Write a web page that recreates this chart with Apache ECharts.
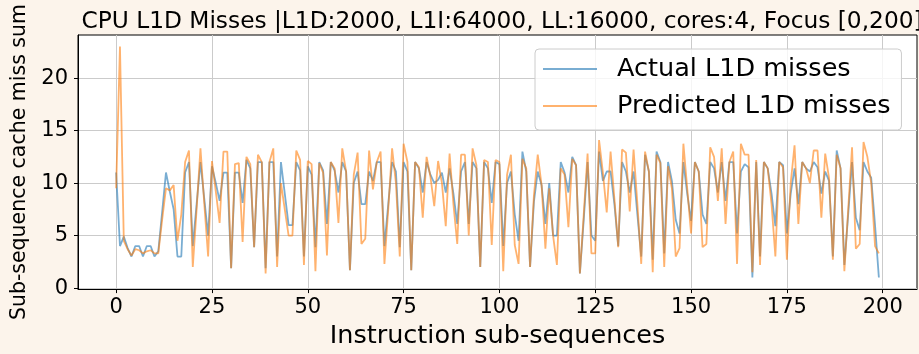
<!DOCTYPE html>
<html><head><meta charset="utf-8">
<script src="https://cdn.jsdelivr.net/npm/echarts@6/dist/echarts.min.js"></script>
<style>html,body{margin:0;padding:0;background:#fcf4eb;}#c{width:919px;height:354px;}</style>
</head><body><div id="c"></div>
<script>
const xIndex = Array.from({length: 200}, (_, i) => i);
const actual = [
 11, 4, 4.9, 3.8, 3.0, 4.0, 4.0, 3.0, 4.0, 4.0,
 3.0, 3.5, 7.2, 11, 9.2, 7.5, 3, 3, 11, 12,
 4, 8, 12, 8.5, 5, 11.6, 10, 8.3, 11, 11,
 1.9, 11, 11, 8.1, 12.2, 11.4, 3.9, 12, 12, 1.9,
 12, 12, 3, 12, 9, 6, 6, 12, 11.2, 3,
 11.6, 10.8, 3.9, 12, 11.2, 6.1, 12, 11.2, 9.1, 12,
 11.1, 1.7, 10, 11.1, 8, 8, 11.1, 10.2, 12, 12,
 4, 8, 12, 11.1, 3.9, 12, 11.1, 1.7, 12, 11.4,
 9.1, 12, 10.8, 10, 10.3, 11, 9.1, 11.4, 9, 6.1,
 11.1, 12, 6.1, 12, 11.4, 2, 12, 11.4, 8.1, 12,
 11.8, 4, 10, 11.1, 7, 4.5, 13, 11.1, 2, 8.2,
 11.1, 9.8, 6.1, 10, 5, 5, 12, 11, 9.1, 12.5,
 11.7, 1.4, 6.5, 12, 5, 4.5, 13, 10.2, 11.1, 11.1,
 8, 4, 12, 11.1, 9.1, 11.1, 7, 3, 12.7, 11.1,
 2.7, 13, 12, 3.3, 12, 10.2, 6.5, 5.2, 12, 9,
 6.4, 12, 11.1, 7, 6.1, 12, 11.4, 9.1, 12, 8.3,
 12, 12, 5.2, 11.1, 11.8, 11.5, 1, 12, 3, 12,
 11.4, 9, 5.9, 12, 11.7, 5.2, 9, 11.4, 8, 12,
 11.4, 11.1, 12, 11.5, 9, 11.1, 10.2, 3, 13.1, 11.4,
 2.2, 7, 12, 6.7, 5.5, 12, 11.1, 10.5, 6, 1
];
const predicted = [
 9.5, 23, 4.5, 3.7, 3.1, 3.7, 3.6, 3.3, 3.5, 3.6,
 3.3, 3.3, 6.5, 9.5, 9.3, 9.8, 4.5, 7, 12, 13.1,
 2, 7.5, 13.3, 8, 3, 12.1, 9.2, 6.2, 13, 13,
 1.9, 11.8, 11.9, 4.4, 12.5, 11.8, 3.9, 12.7, 12, 1.4,
 12, 13.3, 2, 10, 7.5, 5, 5, 13.1, 12.2, 2.2,
 12.1, 11.8, 1.6, 11.9, 11, 3.1, 12, 11.4, 6.2, 13.3,
 11.1, 1.7, 10.8, 12.9, 4.2, 4.7, 13.1, 9.4, 12, 13,
 2.3, 7.5, 13.3, 10, 3, 13.75, 12, 1.7, 12, 11.5,
 6.7, 12.5, 10.6, 7.8, 12.1, 10, 5.9, 12.8, 8, 4.2,
 12.7, 12.7, 5, 13.3, 11.7, 2, 12.2, 12, 4.1, 12.2,
 12, 1.6, 10.8, 12.7, 4.1, 2.3, 12.3, 11.4, 2, 8.8,
 12.7, 9.8, 3.75, 9.5, 5, 2.2, 11.4, 10.8, 5.8, 12.3,
 11.7, 1.4, 7, 12.8, 3.3, 3.3, 14.1, 11, 7.2, 13,
 8.5, 3.9, 13.2, 12.9, 7.3, 13.2, 8, 2.3, 13, 11.1,
 1.5, 12.7, 11.9, 2, 11.6, 9.5, 3, 3.8, 13.75, 9.5,
 5.2, 12, 11.1, 3.9, 4.2, 13.4, 12.5, 8.3, 13.3, 6.1,
 12, 13, 2.3, 13.75, 12.7, 12.7, 1.5, 12.2, 2.2, 12,
 11.4, 8, 3, 12, 11.5, 2.7, 10, 13.6, 6.1, 12,
 11.4, 10, 13.1, 13.1, 6.7, 12.8, 10.5, 2.7, 12.7, 11.4,
 1.6, 7.5, 13.4, 3.75, 4.2, 13.9, 12.5, 10, 4, 3.3
];
const xTicks = [0, 25, 50, 75, 100, 125, 150, 175, 200];
const yTicks = [0, 5, 10, 15, 20];
const seriesNames = ['Actual L1D misses', 'Predicted L1D misses'];
const titleText = 'CPU L1D Misses |L1D:2000, L1I:64000, LL:16000, cores:4, Focus [0,200]';

const FONT = 'DejaVu Sans';
const chart = echarts.init(document.getElementById('c'), null, {renderer: 'canvas'});
const axisCommon = {
  type: 'value',
  axisLine: {show: true, onZero: false, lineStyle: {color: '#000', width: 1}},
  splitLine: {show: true, lineStyle: {color: '#cbcbcb', width: 1}},
  nameLocation: 'middle'
};
chart.setOption({
  animation: false,
  backgroundColor: '#fcf4eb',
  title: {
    text: titleText, left: 497, top: 5, textAlign: 'center',
    textStyle: {fontFamily: FONT, fontSize: 23.3, fontWeight: 'normal', color: '#000'}
  },
  grid: {left: 78, right: 2, top: 35, bottom: 61, show: true, backgroundColor: '#fff', borderColor: '#000', borderWidth: 1},
  legend: {
    orient: 'vertical', left: 535, top: 49,
    padding: [5, 11, 9, 8], itemWidth: 54, itemHeight: 2, itemGap: 7,
    icon: 'rect',
    backgroundColor: 'rgba(255,255,255,0.8)', borderColor: '#cccccc', borderWidth: 1, borderRadius: 4,
    textStyle: {fontFamily: FONT, fontSize: 25.5, lineHeight: 30, color: '#000', padding: [0, 0, 0, 15]},
    data: [
      {name: seriesNames[0], itemStyle: {color: 'rgba(31,119,180,0.6)'}},
      {name: seriesNames[1], itemStyle: {color: 'rgba(255,127,14,0.6)'}}
    ]
  },
  xAxis: Object.assign({}, axisCommon, {
    min: -9.95, max: 208.95,
    axisTick: {show: true, inside: false, length: 4, customValues: xTicks, lineStyle: {color: '#000'}},
    axisLabel: {customValues: xTicks, fontFamily: FONT, fontSize: 21, color: '#000', margin: 8},
    name: 'Instruction sub-sequences', nameGap: 31,
    nameTextStyle: {fontFamily: FONT, fontSize: 25.5, color: '#000'}
  }),
  yAxis: Object.assign({}, axisCommon, {
    min: -0.1, max: 24.1,
    axisTick: {show: true, inside: false, length: 4, customValues: yTicks, lineStyle: {color: '#000'}},
    axisLabel: {customValues: yTicks, fontFamily: FONT, fontSize: 21, color: '#000', margin: 10},
    name: 'Sub-sequence cache miss sum', nameGap: 47,
    nameTextStyle: {fontFamily: FONT, fontSize: 20.5, color: '#000'}
  }),
  series: [
    {
      name: seriesNames[0], type: 'line', symbol: 'none', showSymbol: false,
      data: xIndex.map((x, i) => [x, actual[i]]),
      itemStyle: {color: '#1f77b4'},
      lineStyle: {color: '#1f77b4', width: 1.8, opacity: 0.6},
      emphasis: {disabled: true}, silent: true
    },
    {
      name: seriesNames[1], type: 'line', symbol: 'none', showSymbol: false,
      data: xIndex.map((x, i) => [x, predicted[i]]),
      itemStyle: {color: '#ff7f0e'},
      lineStyle: {color: '#ff7f0e', width: 1.8, opacity: 0.6},
      emphasis: {disabled: true}, silent: true
    }
  ]
});
</script></body></html>
